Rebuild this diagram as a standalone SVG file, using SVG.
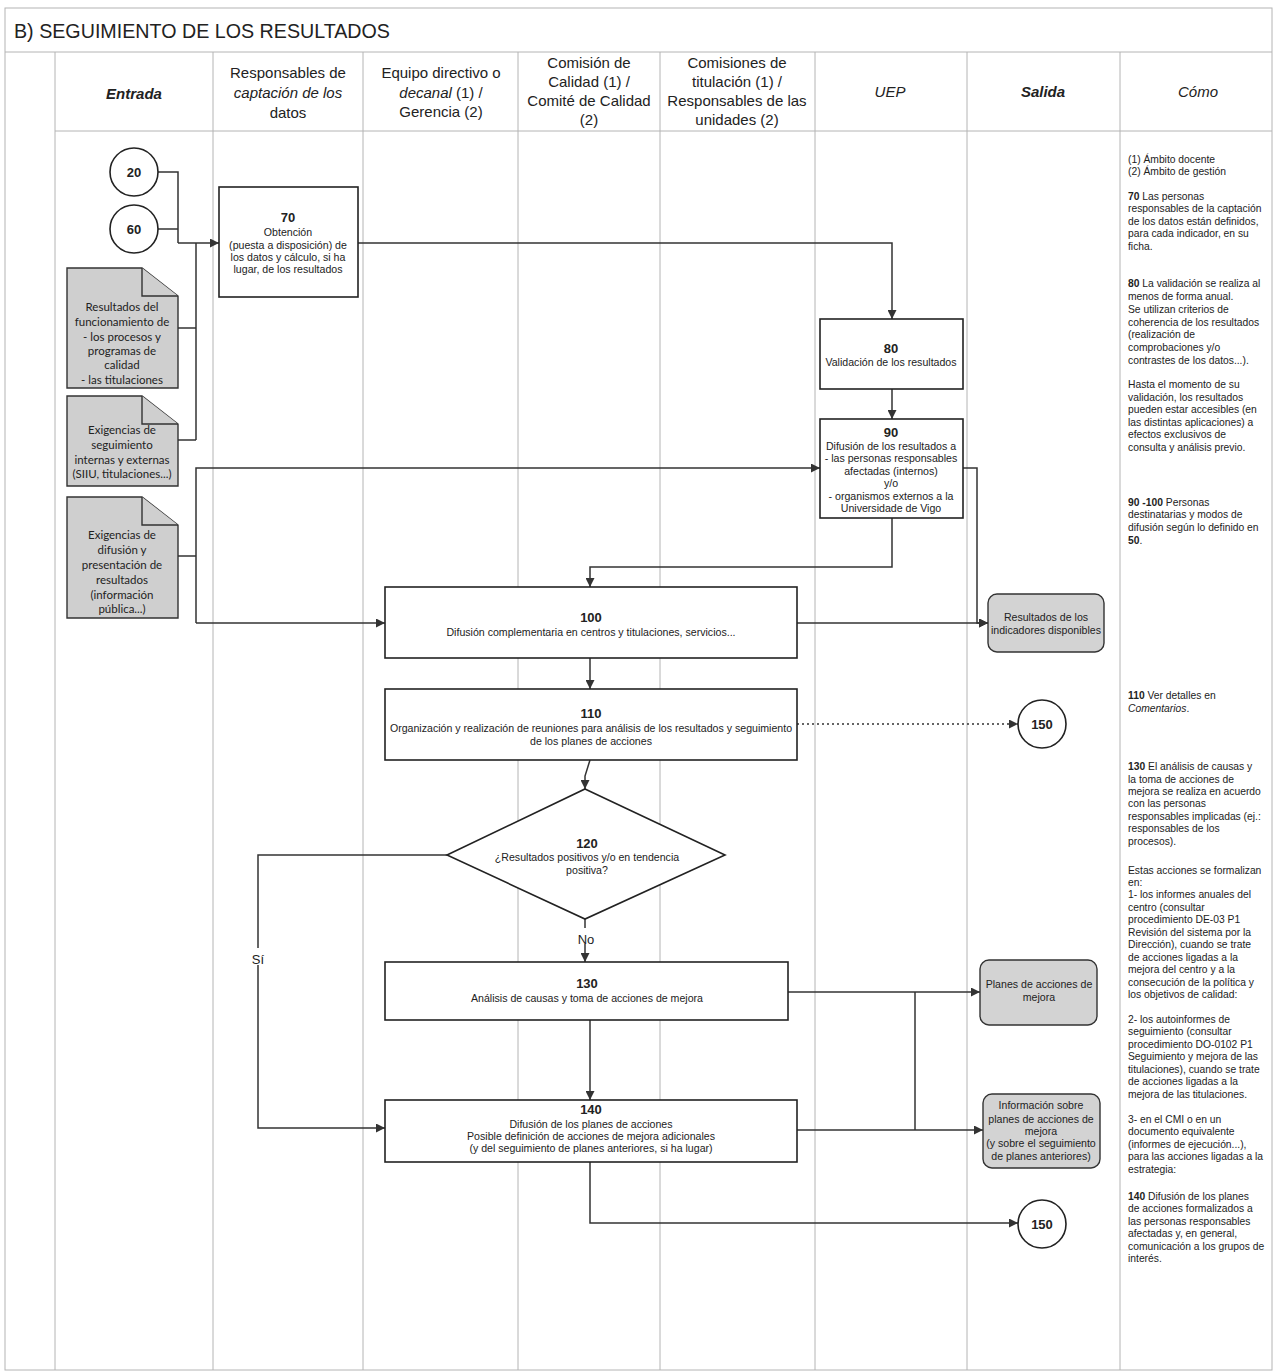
<svg xmlns="http://www.w3.org/2000/svg" width="1276" height="1372" viewBox="0 0 1276 1372">
<defs>
<marker id="arr" viewBox="0 0 10 10" refX="10" refY="5" markerWidth="9" markerHeight="9" markerUnits="userSpaceOnUse" orient="auto"><path d="M0,0 L10,5 L0,10 z" fill="#333"/></marker>
</defs>
<style>
.grid{stroke:#b4b4b4;stroke-width:1;fill:none}
.hd{font-family:"Liberation Sans",Arial,sans-serif;font-size:15px;fill:#222;text-anchor:middle}
.box{fill:#fff;stroke:#222;stroke-width:1.6}
.doc{fill:#cfcfcf;stroke:#333;stroke-width:1.4}
.out{fill:#d3d3d3;stroke:#333;stroke-width:1.4}
.num{font-family:"Liberation Sans",Arial,sans-serif;font-size:13px;font-weight:bold;fill:#222;text-anchor:middle}
.t{font-family:"Liberation Sans",Arial,sans-serif;font-size:10.6px;fill:#222;text-anchor:middle}
.dt{font-family:Lato,"Liberation Sans",sans-serif;font-size:11.5px;fill:#222;text-anchor:middle}
.c{font-family:"Liberation Sans",Arial,sans-serif;font-size:10.3px;fill:#222}
.ln{fill:none;stroke:#333;stroke-width:1.5}
.lbl{font-family:"Liberation Sans",Arial,sans-serif;font-size:13px;fill:#222;text-anchor:middle}
</style>
<rect width="1276" height="1372" fill="#fff"/>
<g id="frame">
<rect x="5" y="8" width="1267" height="1362" class="grid"/>
<line x1="5" y1="52" x2="1272" y2="52" class="grid"/>
<line x1="55" y1="131" x2="1272" y2="131" class="grid"/>
<line x1="55" y1="52" x2="55" y2="1370" class="grid"/>
<line x1="213" y1="52" x2="213" y2="1370" class="grid"/>
<line x1="363" y1="52" x2="363" y2="1370" class="grid"/>
<line x1="518" y1="52" x2="518" y2="1370" class="grid"/>
<line x1="660" y1="52" x2="660" y2="1370" class="grid"/>
<line x1="815" y1="52" x2="815" y2="1370" class="grid"/>
<line x1="967" y1="52" x2="967" y2="1370" class="grid"/>
<line x1="1120" y1="52" x2="1120" y2="1370" class="grid"/>
<text x="14" y="38" font-family="Liberation Sans, Arial, sans-serif" font-size="21" fill="#222" textLength="376" lengthAdjust="spacingAndGlyphs">B) SEGUIMIENTO DE LOS RESULTADOS</text>
</g>
<g id="headers">
<text x="134" y="99" class="hd" font-weight="bold" font-style="italic">Entrada</text>
<text x="288" y="78" class="hd">Responsables de</text>
<text x="288" y="98" class="hd" font-style="italic">captación de los</text>
<text x="288" y="118" class="hd">datos</text>
<text x="441" y="78" class="hd">Equipo directivo o</text>
<text x="441" y="98" class="hd"><tspan font-style="italic">decanal</tspan> (1) /</text>
<text x="441" y="117" class="hd">Gerencia (2)</text>
<text x="589" y="68" class="hd">Comisión de</text>
<text x="589" y="87" class="hd">Calidad (1) /</text>
<text x="589" y="106" class="hd">Comité de Calidad</text>
<text x="589" y="125" class="hd">(2)</text>
<text x="737" y="68" class="hd">Comisiones de</text>
<text x="737" y="87" class="hd">titulación (1) /</text>
<text x="737" y="106" class="hd">Responsables de las</text>
<text x="737" y="125" class="hd">unidades (2)</text>
<text x="890" y="97" class="hd" font-style="italic">UEP</text>
<text x="1043" y="97" class="hd" font-weight="bold" font-style="italic">Salida</text>
<text x="1198" y="97" class="hd" font-style="italic">Cómo</text>
</g>
<g id="connectors">
<polyline points="158,172 178,172 178,243" class="ln"/>
<polyline points="158,229 178,229" class="ln"/>
<polyline points="178,243 219,243" class="ln" marker-end="url(#arr)"/>
<polyline points="196,243 196,440" class="ln"/>
<polyline points="178,328 196,328" class="ln"/>
<polyline points="178,440 196,440" class="ln"/>
<polyline points="178,556 196,556" class="ln"/>
<polyline points="196,623 196,468 820,468" class="ln" marker-end="url(#arr)"/>
<polyline points="196,623 385,623" class="ln" marker-end="url(#arr)"/>
<polyline points="358,243 892,243 892,319" class="ln" marker-end="url(#arr)"/>
<polyline points="892,389 892,419" class="ln" marker-end="url(#arr)"/>
<polyline points="963,468 977,468 977,623 988,623" class="ln" marker-end="url(#arr)"/>
<polyline points="892,518 892,567 590,567 590,587" class="ln" marker-end="url(#arr)"/>
<polyline points="797,623 988,623" class="ln" marker-end="url(#arr)"/>
<polyline points="590,658 590,689" class="ln" marker-end="url(#arr)"/>
<polyline points="797,724 1018,724" class="ln" stroke-dasharray="2,3" marker-end="url(#arr)"/>
<polyline points="590,760 585,776 585,789" class="ln" marker-end="url(#arr)"/>
<polyline points="585,919 585,962" class="ln" marker-end="url(#arr)"/>
<polyline points="447,855 258,855 258,1128 385,1128" class="ln" marker-end="url(#arr)"/>
<polyline points="590,1020 590,1100" class="ln" marker-end="url(#arr)"/>
<polyline points="788,992 980,992" class="ln" marker-end="url(#arr)"/>
<polyline points="915,992 915,1130" class="ln"/>
<polyline points="797,1130 983,1130" class="ln" marker-end="url(#arr)"/>
<polyline points="590,1162 590,1223 1018,1223" class="ln" marker-end="url(#arr)"/>
<rect x="575" y="928" width="22" height="16" fill="#fff"/>
<text x="586" y="944" class="lbl">No</text>
<rect x="248" y="948" width="20" height="17" fill="#fff"/>
<text x="258" y="964" class="lbl">Sí</text>
</g>
<g id="c20"><circle cx="134" cy="172" r="24" class="box"/><text x="134" y="177" class="num">20</text></g>
<g id="c60"><circle cx="134" cy="229" r="24" class="box"/><text x="134" y="234" class="num">60</text></g>
<g id="doc1">
<path d="M67,268 H142 L178,296 V388 H67 Z" class="doc"/><path d="M142,268 V296 H178" class="doc" fill="none"/>
<text class="dt"><tspan x="122" y="311">Resultados del</tspan><tspan x="122" y="326">funcionamiento de</tspan><tspan x="122" y="341">- los procesos y</tspan><tspan x="122" y="355">programas de</tspan><tspan x="122" y="369">calidad</tspan><tspan x="122" y="384">- las titulaciones</tspan></text>
</g>
<g id="doc2">
<path d="M67,396 H142 L178,424 V486 H67 Z" class="doc"/><path d="M142,396 V424 H178" class="doc" fill="none"/>
<text class="dt"><tspan x="122" y="434">Exigencias de</tspan><tspan x="122" y="449">seguimiento</tspan><tspan x="122" y="464">internas y externas</tspan><tspan x="122" y="478">(SIIU, titulaciones...)</tspan></text>
</g>
<g id="doc3">
<path d="M67,497 H142 L178,525 V618 H67 Z" class="doc"/><path d="M142,497 V525 H178" class="doc" fill="none"/>
<text class="dt"><tspan x="122" y="539">Exigencias de</tspan><tspan x="122" y="554">difusión y</tspan><tspan x="122" y="569">presentación de</tspan><tspan x="122" y="584">resultados</tspan><tspan x="122" y="599">(información</tspan><tspan x="122" y="613">pública...)</tspan></text>
</g>
<g id="n70">
<rect x="219" y="187" width="139" height="110" class="box"/>
<text x="288" y="222" class="num">70</text>
<text class="t" font-size="11.2"><tspan x="288" y="236">Obtención</tspan><tspan x="288" y="249">(puesta a disposición) de</tspan><tspan x="288" y="261">los datos y cálculo, si ha</tspan><tspan x="288" y="273">lugar, de los resultados</tspan></text>
</g>
<g id="n80">
<rect x="820" y="319" width="143" height="70" class="box"/>
<text x="891" y="353" class="num">80</text>
<text x="891" y="366" class="t">Validación de los resultados</text>
</g>
<g id="n90">
<rect x="820" y="419" width="143" height="99" class="box"/>
<text x="891" y="437" class="num">90</text>
<text class="t"><tspan x="891" y="450">Difusión de los resultados a</tspan><tspan x="891" y="462">- las personas responsables</tspan><tspan x="891" y="475">afectadas (internos)</tspan><tspan x="891" y="487">y/o</tspan><tspan x="891" y="500">- organismos externos a la</tspan><tspan x="891" y="512">Universidade de Vigo</tspan></text>
</g>
<g id="n100">
<rect x="385" y="587" width="412" height="71" class="box"/>
<text x="591" y="622" class="num">100</text>
<text x="591" y="636" class="t">Difusión complementaria en centros y titulaciones, servicios...</text>
</g>
<g id="resultados">
<rect x="988" y="594" width="116" height="58" rx="9" class="out"/>
<text class="t"><tspan x="1046" y="621">Resultados de los</tspan><tspan x="1046" y="634">indicadores disponibles</tspan></text>
</g>
<g id="n110">
<rect x="385" y="689" width="412" height="71" class="box"/>
<text x="591" y="718" class="num">110</text>
<text class="t"><tspan x="591" y="732">Organización y realización de reuniones para análisis de los resultados y seguimiento</tspan><tspan x="591" y="745">de los planes de acciones</tspan></text>
</g>
<g id="c150a"><circle cx="1042" cy="724" r="24" class="box"/><text x="1042" y="729" class="num">150</text></g>
<g id="n120">
<polygon points="585,789 725,855 585,919 447,855" class="box"/>
<text x="587" y="848" class="num">120</text>
<text class="t"><tspan x="587" y="861">¿Resultados positivos y/o en tendencia</tspan><tspan x="587" y="874">positiva?</tspan></text>
</g>
<g id="n130">
<rect x="385" y="962" width="403" height="58" class="box"/>
<text x="587" y="988" class="num">130</text>
<text x="587" y="1002" class="t">Análisis de causas y toma de acciones de mejora</text>
</g>
<g id="planes">
<rect x="980" y="960" width="117" height="65" rx="9" class="out"/>
<text class="t"><tspan x="1039" y="988">Planes de acciones de</tspan><tspan x="1039" y="1001">mejora</tspan></text>
</g>
<g id="n140">
<rect x="385" y="1100" width="412" height="62" class="box"/>
<text x="591" y="1114" class="num">140</text>
<text class="t"><tspan x="591" y="1128">Difusión de los planes de acciones</tspan><tspan x="591" y="1140">Posible definición de acciones de mejora adicionales</tspan><tspan x="591" y="1152">(y del seguimiento de planes anteriores, si ha lugar)</tspan></text>
</g>
<g id="info">
<rect x="983" y="1094" width="117" height="74" rx="9" class="out"/>
<text x="1041" y="1109" class="t" font-size="8.5">Información sobre</text>
<text class="t"><tspan x="1041" y="1123">planes de acciones de</tspan><tspan x="1041" y="1135">mejora</tspan><tspan x="1041" y="1147">(y sobre el seguimiento</tspan><tspan x="1041" y="1160">de planes anteriores)</tspan></text>
</g>
<g id="c150b"><circle cx="1042" cy="1224" r="24" class="box"/><text x="1042" y="1229" class="num">150</text></g>
<g id="como">
<text class="c">
<tspan x="1128" y="163">(1) Ámbito docente</tspan>
<tspan x="1128" y="175">(2) Ámbito de gestión</tspan>
<tspan x="1128" y="200"><tspan font-weight="bold">70</tspan>  Las personas</tspan>
<tspan x="1128" y="212">responsables de la captación</tspan>
<tspan x="1128" y="225">de los datos están definidos,</tspan>
<tspan x="1128" y="237">para cada indicador, en su</tspan>
<tspan x="1128" y="250">ficha.</tspan>
<tspan x="1128" y="287"><tspan font-weight="bold">80</tspan>  La validación se realiza al</tspan>
<tspan x="1128" y="300">menos de forma anual.</tspan>
<tspan x="1128" y="313">Se utilizan criterios de</tspan>
<tspan x="1128" y="326">coherencia de los resultados</tspan>
<tspan x="1128" y="338">(realización de</tspan>
<tspan x="1128" y="351">comprobaciones y/o</tspan>
<tspan x="1128" y="364">contrastes de los datos...).</tspan>
<tspan x="1128" y="388">Hasta el momento de su</tspan>
<tspan x="1128" y="401">validación, los resultados</tspan>
<tspan x="1128" y="413">pueden estar accesibles (en</tspan>
<tspan x="1128" y="426">las distintas aplicaciones) a</tspan>
<tspan x="1128" y="438">efectos exclusivos de</tspan>
<tspan x="1128" y="451">consulta y análisis previo.</tspan>
<tspan x="1128" y="506"><tspan font-weight="bold">90 -100</tspan>  Personas</tspan>
<tspan x="1128" y="518">destinatarias y modos de</tspan>
<tspan x="1128" y="531">difusión según lo definido en</tspan>
<tspan x="1128" y="544" font-weight="bold">50</tspan><tspan>.</tspan>
<tspan x="1128" y="699"><tspan font-weight="bold">110</tspan>  Ver detalles en</tspan>
<tspan x="1128" y="712" font-style="italic">Comentarios</tspan><tspan>.</tspan>
<tspan x="1128" y="770"><tspan font-weight="bold">130</tspan>  El análisis de causas y</tspan>
<tspan x="1128" y="783">la toma de acciones de</tspan>
<tspan x="1128" y="795">mejora se realiza en acuerdo</tspan>
<tspan x="1128" y="807">con las personas</tspan>
<tspan x="1128" y="820">responsables implicadas (ej.:</tspan>
<tspan x="1128" y="832">responsables de los</tspan>
<tspan x="1128" y="845">procesos).</tspan>
<tspan x="1128" y="874">Estas acciones se formalizan</tspan>
<tspan x="1128" y="886">en:</tspan>
<tspan x="1128" y="898">1- los informes anuales del</tspan>
<tspan x="1128" y="911">centro (consultar</tspan>
<tspan x="1128" y="923">procedimiento DE-03 P1</tspan>
<tspan x="1128" y="936">Revisión del sistema por la</tspan>
<tspan x="1128" y="948">Dirección), cuando se trate</tspan>
<tspan x="1128" y="961">de acciones ligadas a la</tspan>
<tspan x="1128" y="973">mejora del centro y a la</tspan>
<tspan x="1128" y="986">consecución de la política y</tspan>
<tspan x="1128" y="998">los objetivos de calidad:</tspan>
<tspan x="1128" y="1023">2- los autoinformes de</tspan>
<tspan x="1128" y="1035">seguimiento (consultar</tspan>
<tspan x="1128" y="1048">procedimiento DO-0102 P1</tspan>
<tspan x="1128" y="1060">Seguimiento y mejora de las</tspan>
<tspan x="1128" y="1073">titulaciones), cuando se trate</tspan>
<tspan x="1128" y="1085">de acciones ligadas a la</tspan>
<tspan x="1128" y="1098">mejora de las titulaciones.</tspan>
<tspan x="1128" y="1123">3- en el CMI o en un</tspan>
<tspan x="1128" y="1135">documento equivalente</tspan>
<tspan x="1128" y="1148">(informes de ejecución...),</tspan>
<tspan x="1128" y="1160">para las acciones ligadas a la</tspan>
<tspan x="1128" y="1173">estrategia:</tspan>
<tspan x="1128" y="1200"><tspan font-weight="bold">140</tspan>  Difusión de los planes</tspan>
<tspan x="1128" y="1212">de acciones formalizados a</tspan>
<tspan x="1128" y="1225">las personas responsables</tspan>
<tspan x="1128" y="1237">afectadas y, en general,</tspan>
<tspan x="1128" y="1250">comunicación a los grupos de</tspan>
<tspan x="1128" y="1262">interés.</tspan>
</text>
</g>
</svg>
